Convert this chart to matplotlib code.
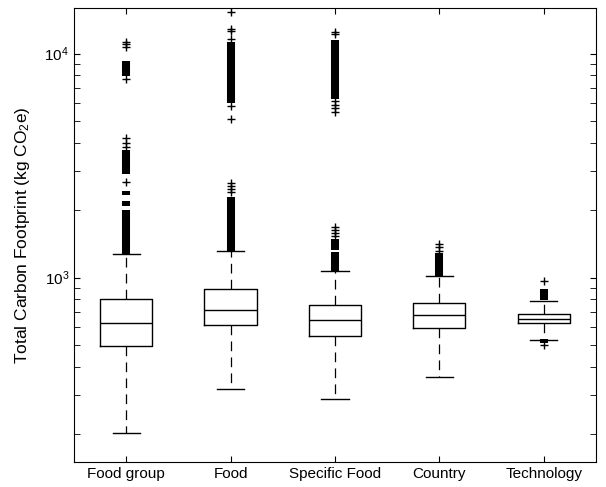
import numpy as np
import matplotlib.pyplot as plt
from matplotlib.ticker import LogLocator, NullFormatter

plt.rcParams['font.family'] = 'Liberation Sans'
plt.rcParams['mathtext.fontset'] = 'custom'
plt.rcParams['mathtext.rm'] = 'Liberation Sans'
plt.rcParams['mathtext.it'] = 'Liberation Sans'
plt.rcParams['lines.scale_dashes'] = False

# Data
labels = ['Food group', 'Food', 'Specific Food', 'Country', 'Technology']
q1 = [496, 611, 546, 598, 624]
med = [624, 720, 643, 677, 656]
q3 = [806, 893, 758, 766, 690]
whislo = [203, 319, 288, 358, 528]
whishi = [1280, 1320, 1075, 1020, 789]

# single outliers (+)
fliers = [
    [2680, 3840, 4000, 4220, 7730, 10750, 11100, 11300],
    [2400, 2480, 2570, 2650, 5130, 5820, 11670, 12580, 12890, 15350],
    [1530, 1580, 1630, 1680, 5490, 5730, 5920, 6130, 12250, 12500],
    [1320, 1370, 1410],
    [499, 962],
]
# runs of outliers so dense they merge into a solid bar (low, high)
dense = [
    [(1280, 2010), (2080, 2190), (2330, 2430), (2900, 3700), (7980, 9300)],
    [(1320, 2280), (6030, 11230)],
    [(1075, 1300), (1330, 1480), (6280, 11550)],
    [(1020, 1290)],
    [(512, 529), (790, 893)],
]

stats = []
for i in range(len(labels)):
    stats.append(dict(label=labels[i], q1=q1[i], med=med[i], q3=q3[i],
                      whislo=whislo[i], whishi=whishi[i], fliers=fliers[i]))

fig = plt.figure(figsize=(6.06, 4.87), dpi=100)
ax = fig.add_axes([0.1221, 0.0513, 0.8614, 0.9323])

pos = np.arange(1, len(labels) + 1)
for p, runs in zip(pos, dense):
    for lo, hi in runs:
        ax.vlines(p, lo, hi, color='k', linewidth=5.8, zorder=1)

ax.bxp(stats, positions=pos, widths=0.5, capwidths=0.26,
       boxprops=dict(color='k', linewidth=1.0),
       medianprops=dict(color='k', linewidth=1.0),
       whiskerprops=dict(color='k', linewidth=0.9, linestyle=(0, (7, 4.5))),
       capprops=dict(color='k', linewidth=1.0),
       flierprops=dict(marker='+', markersize=6, markeredgecolor='k',
                       markeredgewidth=1.0))

ax.set_yscale('log')
ax.set_ylim(150, 16000)
ax.set_xlim(0.5, 5.5)
ax.set_xticks(pos)
ax.set_xticklabels(labels, fontsize=11)
ax.yaxis.set_minor_locator(LogLocator(base=10, subs=np.arange(2, 10)))
ax.yaxis.set_minor_formatter(NullFormatter())
ax.tick_params(axis='both', which='both', direction='in', top=True, right=True)
ax.tick_params(which='major', length=4, labelsize=11)
ax.tick_params(which='minor', length=4)
for s in ax.spines.values():
    s.set_linewidth(0.8)

ax.set_ylabel('Total Carbon Footprint (kg CO$_2$e)', fontsize=12.5, labelpad=9)

plt.savefig('out.png', dpi=100)
